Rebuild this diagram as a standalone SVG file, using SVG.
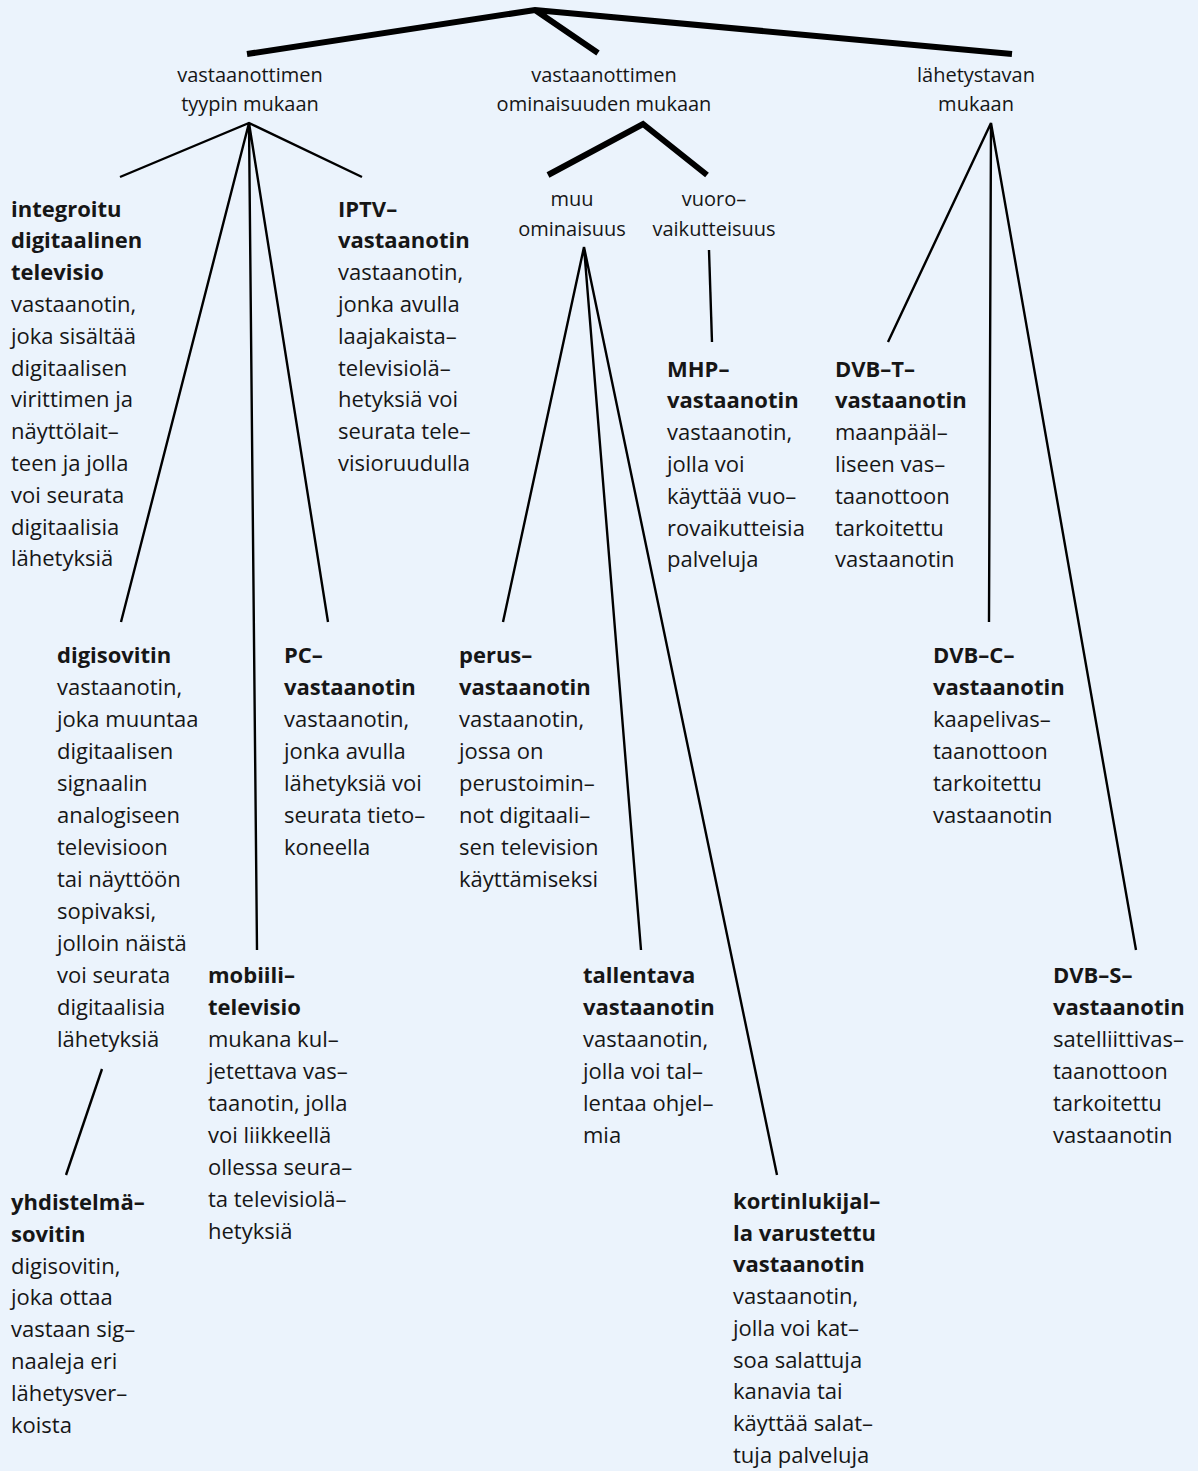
<svg xmlns="http://www.w3.org/2000/svg" width="1198" height="1471" viewBox="0 0 1198 1471">
<style>
text{font-family:"Open Sans","Noto Sans","Liberation Sans",sans-serif;fill:#161616}
.cat{font-size:20px;text-anchor:middle}
.t{font-size:22px}
.b{font-weight:700}
.thick{stroke:#000;stroke-width:6;fill:none}
.thin{stroke:#000;stroke-width:2.4;fill:none}
</style>
<rect x="0" y="0" width="1198" height="1471" fill="#ebf3fc"/>
<g id="connectors">
<path class="thick" d="M247,54 L535,10 L1012,54 M535,10 L598,53"/>
<path class="thick" d="M548,175 L643,124 L707,175"/>
<path class="thin" d="M120,177 L249,123 L362,177 M249,123 L121,622 M249,123 L257,950 M249,123 L328,622"/>
<path class="thin" d="M503,622 L584,247 L641,950 M584,247 L777,1175"/>
<path class="thin" d="M709,250 L712,342"/>
<path class="thin" d="M888,342 L991,123 L989,622 M991,123 L1136,950"/>
<path class="thin" d="M102,1069 L66,1175"/>
</g>
<g id="cat-tyyppi"><text class="cat" x="250" y="82">vastaanottimen<tspan x="250" dy="29">tyypin mukaan</tspan></text></g>
<g id="cat-ominaisuus"><text class="cat" x="604" y="82">vastaanottimen<tspan x="604" dy="29">ominaisuuden mukaan</tspan></text></g>
<g id="cat-lahetystapa"><text class="cat" x="976" y="82">lähetystavan<tspan x="976" dy="29">mukaan</tspan></text></g>
<g id="cat-muu"><text class="cat" x="572" y="206">muu<tspan x="572" dy="30">ominaisuus</tspan></text></g>
<g id="cat-vuoro"><text class="cat" x="714" y="206">vuoro–<tspan x="714" dy="30">vaikutteisuus</tspan></text></g>
<g id="integroitu"><text class="t" x="11" y="216.5"><tspan class="b">integroitu</tspan><tspan class="b" x="11" dy="31.8">digitaalinen</tspan><tspan class="b" x="11" dy="31.8">televisio</tspan><tspan x="11" dy="31.8">vastaanotin,</tspan><tspan x="11" dy="31.8">joka sisältää</tspan><tspan x="11" dy="31.8">digitaalisen</tspan><tspan x="11" dy="31.8">virittimen ja</tspan><tspan x="11" dy="31.8">näyttölait–</tspan><tspan x="11" dy="31.8">teen ja jolla</tspan><tspan x="11" dy="31.8">voi seurata</tspan><tspan x="11" dy="31.8">digitaalisia</tspan><tspan x="11" dy="31.8">lähetyksiä</tspan></text></g>
<g id="iptv"><text class="t" x="338" y="216.5"><tspan class="b">IPTV–</tspan><tspan class="b" x="338" dy="31.8">vastaanotin</tspan><tspan x="338" dy="31.8">vastaanotin,</tspan><tspan x="338" dy="31.8">jonka avulla</tspan><tspan x="338" dy="31.8">laajakaista–</tspan><tspan x="338" dy="31.8">televisiolä–</tspan><tspan x="338" dy="31.8">hetyksiä voi</tspan><tspan x="338" dy="31.8">seurata tele–</tspan><tspan x="338" dy="31.8">visioruudulla</tspan></text></g>
<g id="mhp"><text class="t" x="667" y="376.5"><tspan class="b">MHP–</tspan><tspan class="b" x="667" dy="31.8">vastaanotin</tspan><tspan x="667" dy="31.8">vastaanotin,</tspan><tspan x="667" dy="31.8">jolla voi</tspan><tspan x="667" dy="31.8">käyttää vuo–</tspan><tspan x="667" dy="31.8">rovaikutteisia</tspan><tspan x="667" dy="31.8">palveluja</tspan></text></g>
<g id="dvbt"><text class="t" x="835" y="376.5"><tspan class="b">DVB–T–</tspan><tspan class="b" x="835" dy="31.8">vastaanotin</tspan><tspan x="835" dy="31.8">maanpääl–</tspan><tspan x="835" dy="31.8">liseen vas–</tspan><tspan x="835" dy="31.8">taanottoon</tspan><tspan x="835" dy="31.8">tarkoitettu</tspan><tspan x="835" dy="31.8">vastaanotin</tspan></text></g>
<g id="digisovitin"><text class="t" x="57" y="663"><tspan class="b">digisovitin</tspan><tspan x="57" dy="32">vastaanotin,</tspan><tspan x="57" dy="32">joka muuntaa</tspan><tspan x="57" dy="32">digitaalisen</tspan><tspan x="57" dy="32">signaalin</tspan><tspan x="57" dy="32">analogiseen</tspan><tspan x="57" dy="32">televisioon</tspan><tspan x="57" dy="32">tai näyttöön</tspan><tspan x="57" dy="32">sopivaksi,</tspan><tspan x="57" dy="32">jolloin näistä</tspan><tspan x="57" dy="32">voi seurata</tspan><tspan x="57" dy="32">digitaalisia</tspan><tspan x="57" dy="32">lähetyksiä</tspan></text></g>
<g id="pc"><text class="t" x="284" y="663"><tspan class="b">PC–</tspan><tspan class="b" x="284" dy="32">vastaanotin</tspan><tspan x="284" dy="32">vastaanotin,</tspan><tspan x="284" dy="32">jonka avulla</tspan><tspan x="284" dy="32">lähetyksiä voi</tspan><tspan x="284" dy="32">seurata tieto–</tspan><tspan x="284" dy="32">koneella</tspan></text></g>
<g id="perus"><text class="t" x="459" y="663"><tspan class="b">perus–</tspan><tspan class="b" x="459" dy="32">vastaanotin</tspan><tspan x="459" dy="32">vastaanotin,</tspan><tspan x="459" dy="32">jossa on</tspan><tspan x="459" dy="32">perustoimin–</tspan><tspan x="459" dy="32">not digitaali–</tspan><tspan x="459" dy="32">sen television</tspan><tspan x="459" dy="32">käyttämiseksi</tspan></text></g>
<g id="dvbc"><text class="t" x="933" y="663"><tspan class="b">DVB–C–</tspan><tspan class="b" x="933" dy="32">vastaanotin</tspan><tspan x="933" dy="32">kaapelivas–</tspan><tspan x="933" dy="32">taanottoon</tspan><tspan x="933" dy="32">tarkoitettu</tspan><tspan x="933" dy="32">vastaanotin</tspan></text></g>
<g id="mobiili"><text class="t" x="208" y="983"><tspan class="b">mobiili–</tspan><tspan class="b" x="208" dy="32">televisio</tspan><tspan x="208" dy="32">mukana kul–</tspan><tspan x="208" dy="32">jetettava vas–</tspan><tspan x="208" dy="32">taanotin, jolla</tspan><tspan x="208" dy="32">voi liikkeellä</tspan><tspan x="208" dy="32">ollessa seura–</tspan><tspan x="208" dy="32">ta televisiolä–</tspan><tspan x="208" dy="32">hetyksiä</tspan></text></g>
<g id="tallentava"><text class="t" x="583" y="983"><tspan class="b">tallentava</tspan><tspan class="b" x="583" dy="32">vastaanotin</tspan><tspan x="583" dy="32">vastaanotin,</tspan><tspan x="583" dy="32">jolla voi tal–</tspan><tspan x="583" dy="32">lentaa ohjel–</tspan><tspan x="583" dy="32">mia</tspan></text></g>
<g id="dvbs"><text class="t" x="1053" y="983"><tspan class="b">DVB–S–</tspan><tspan class="b" x="1053" dy="32">vastaanotin</tspan><tspan x="1053" dy="32">satelliittivas–</tspan><tspan x="1053" dy="32">taanottoon</tspan><tspan x="1053" dy="32">tarkoitettu</tspan><tspan x="1053" dy="32">vastaanotin</tspan></text></g>
<g id="yhdistelma"><text class="t" x="11" y="1210"><tspan class="b">yhdistelmä–</tspan><tspan class="b" x="11" dy="31.8">sovitin</tspan><tspan x="11" dy="31.8">digisovitin,</tspan><tspan x="11" dy="31.8">joka ottaa</tspan><tspan x="11" dy="31.8">vastaan sig–</tspan><tspan x="11" dy="31.8">naaleja eri</tspan><tspan x="11" dy="31.8">lähetysver–</tspan><tspan x="11" dy="31.8">koista</tspan></text></g>
<g id="kortinlukija"><text class="t" x="733" y="1209"><tspan class="b">kortinlukijal–</tspan><tspan class="b" x="733" dy="31.7">la varustettu</tspan><tspan class="b" x="733" dy="31.7">vastaanotin</tspan><tspan x="733" dy="31.7">vastaanotin,</tspan><tspan x="733" dy="31.7">jolla voi kat–</tspan><tspan x="733" dy="31.7">soa salattuja</tspan><tspan x="733" dy="31.7">kanavia tai</tspan><tspan x="733" dy="31.7">käyttää salat–</tspan><tspan x="733" dy="31.7">tuja palveluja</tspan></text></g>
</svg>
